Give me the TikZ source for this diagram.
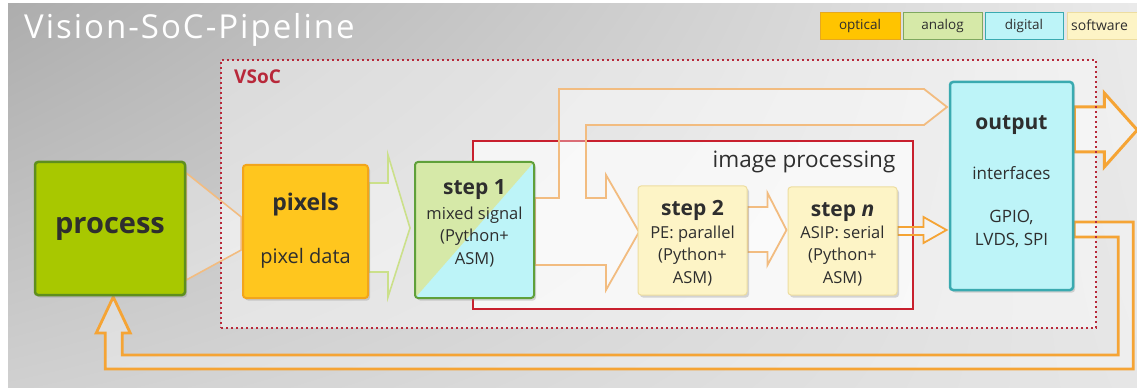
\documentclass[tikz,border=0pt]{standalone}
\usepackage{fontspec}
\setmainfont{Open Sans}
\newfontfamily\titlefont[LetterSpace=6]{Open Sans}
\usetikzlibrary{shadows,calc,shadings}
\pgfdeclarelayer{bg}
\pgfsetlayers{bg,main}
\definecolor{procG}{HTML}{A8C800}
\definecolor{procB}{HTML}{5E8E1E}
\definecolor{pixO}{HTML}{FFC61E}
\definecolor{pixB}{HTML}{F2A51C}
\definecolor{optO}{HTML}{FFC400}
\definecolor{optB}{HTML}{E6A820}
\definecolor{anaG}{HTML}{D6E9A8}
\definecolor{anaB}{HTML}{7FA860}
\definecolor{stepG}{HTML}{5FA03A}
\definecolor{digC}{HTML}{BDF4F8}
\definecolor{digB}{HTML}{3AAAB0}
\definecolor{swY}{HTML}{FDF4C6}
\definecolor{swB}{HTML}{EDDDA0}
\definecolor{arrO}{HTML}{F5A435}
\definecolor{arrL}{HTML}{F2BC80}
\definecolor{arrG}{HTML}{CBE08A}
\definecolor{vsocR}{HTML}{B8283A}
\definecolor{ipR}{HTML}{C8202E}
\definecolor{txt}{HTML}{2E2E2E}
\definecolor{bgUL}{HTML}{ADADAD}
\definecolor{bgUR}{HTML}{EAEAEA}
\definecolor{bgLL}{HTML}{D0D0D0}
\definecolor{bgLR}{HTML}{E6E6E6}
\begin{document}
\begin{tikzpicture}[x=1pt,y=-1pt,
  box/.style={rounded corners=3pt, inner sep=0pt, text=txt,
    drop shadow={shadow xshift=2pt, shadow yshift=-2.5pt, opacity=0.3}},
  legbox/.style={inner sep=0pt, minimum height=27pt, line width=0.8pt,
    text=txt, font=\fontsize{13.5}{16}\selectfont},
  lbl/.style={inner sep=0pt, text=txt},
  ttl/.style={lbl, font=\bfseries\fontsize{21}{25}\selectfont},
  dsc/.style={lbl, align=center, font=\fontsize{16.5}{22.5}\selectfont},
  blockarrow/.style={line width=1.6pt, line join=miter, fill=white, fill opacity=0.35},
]
\useasboundingbox (0,0) rectangle (1137,390);

% boxes
\node[box, fill=procG, draw=procB, line width=2.5pt, minimum width=150pt, minimum height=133pt,
  font=\bfseries\fontsize{29}{34}\selectfont] (process) at (110,228.5) {process};
\node[box, fill=pixO, draw=pixB, line width=2pt, minimum width=125pt, minimum height=133pt] (pixels) at (305.5,231.5) {};
\node[ttl, font=\bfseries\fontsize{23}{27}\selectfont] (pixT) at (305.5,205) {pixels};
\node[lbl, font=\fontsize{20}{24}\selectfont] (pixD) at (305.5,258) {pixel data};

\node[box, fill=digC, draw=stepG, line width=2pt, minimum width=119pt, minimum height=136pt,
  path picture={\fill[anaG] (path picture bounding box.north west) -- (path picture bounding box.north east)
     -- (path picture bounding box.south west) -- cycle;}] (step1) at (474.5,230) {};
\node[ttl] (s1T) at (474.5,190) {step 1};
\node[dsc] (s1D) at (474.5,237) {mixed signal\\(Python+\\ASM)};

\node[box, fill=swY, draw=swB, line width=1pt, minimum width=109pt, minimum height=109pt] (step2) at (692.5,240.5) {};
\node[ttl] (s2T) at (692.5,210) {step 2};
\node[dsc] (s2D) at (692.5,256) {PE: parallel\\(Python+\\ASM)};

\node[box, fill=swY, draw=swB, line width=1pt, minimum width=109pt, minimum height=108pt] (stepn) at (842.5,241) {};
\node[ttl] (snT) at (842.5,212) {step \textit{n}};
\node[dsc] (snD) at (842.5,256) {ASIP: serial\\(Python+\\ASM)};

\node[box, fill=digC, draw=digB, line width=2.5pt, minimum width=123pt, minimum height=208pt] (output) at (1011.5,186) {};
\node[ttl] (outT) at (1011.5,125) {output};
\node[lbl, font=\fontsize{17}{22}\selectfont] (outI) at (1011.5,173) {interfaces};
\node[dsc, font=\fontsize{17}{23}\selectfont] (outG) at (1011.5,229) {GPIO,\\LVDS, SPI};

% legend
\node[legbox, fill=optO, draw=optB, minimum width=80pt] (lopt) at (860,25.5) {optical};
\node[legbox, fill=anaG, draw=anaB, minimum width=79pt] (lana) at (942.5,25.5) {analog};
\node[legbox, fill=digC, draw=digB, minimum width=78pt] (ldig) at (1024,25.5) {digital};
\node[legbox, fill=swY, draw=swB, minimum width=78pt] (lsw) at (1106,25.5) {};
\node[lbl, anchor=west, font=\fontsize{14}{16}\selectfont] (lswT) at (1071,25.5) {software};

% title
\node[anchor=base west, inner sep=0pt, text=white, font=\titlefont\fontsize{33}{38}\selectfont] (title) at (24,39) {Vision-SoC-Pipeline};
\node[anchor=base west, inner sep=0pt, text=vsocR, font=\bfseries\fontsize{19}{22}\selectfont] (vsocT) at (234,84) {VSoC};
\node[lbl, font=\fontsize{22.5}{26}\selectfont] (ipT) at (804,162) {image processing};

\begin{pgfonlayer}{bg}
  \shade[upper left=bgUL, upper right=bgUR, lower left=bgLL, lower right=bgLR] (8,4) rectangle (1137,387);
  \node[fill=white, fill opacity=0.45, minimum width=875pt, minimum height=268pt, inner sep=0pt] (vsocfill) at (658.5,194) {};
  \node[draw=ipR, line width=1.2pt, fill=white, fill opacity=0.65, minimum width=440pt, minimum height=168pt, inner sep=0pt] (ip) at (693,225) {};
  % process -> pixels
  \draw[blockarrow, draw=arrL] ($(process.east)+(0,-55.5)$) -- ++(55,44) -- ++(0,33) -- ++(-55,30) -- cycle;
  % pixels -> step1
  \draw[blockarrow, draw=arrG] ($(pixels.east)+(0,-48.5)$) -- ++(19,0) -- ++(0,-28) -- ++(22,73) -- ++(-22,69) -- ++(0,-25) -- ++(-19,0) -- cycle;
  % step1 -> step2 and -> output
  \draw[blockarrow, draw=arrL, line width=1.8pt] ($(step1.east)+(0,-32)$) -- ++(24,0) -- ++(0,-109) -- ++(365,0) -- ++(23,18) -- ++(-23,18)
     -- ++(-338,0) -- ++(0,73) -- ++(20,0) -- ++(0,-23) -- ++(33,57) -- ++(-33,58) -- ++(0,-25) -- ++(-71,0) -- cycle;
  % step2 -> stepn
  \draw[blockarrow, draw=arrL, line width=1.8pt] ($(step2.east)+(0,-33.5)$) -- ++(20,0) -- ++(0,-14) -- ++(19,37) -- ++(-19,35) -- ++(0,-13) -- ++(-20,0) -- cycle;
  % stepn -> output
  \draw[blockarrow, draw=arrO, line width=1.8pt] ($(stepn.east)+(0,-14)$) -- ++(26,0) -- ++(0,-10) -- ++(23,13) -- ++(-23,13) -- ++(0,-8) -- ++(-26,0) -- cycle;
  % output -> out
  \draw[blockarrow, draw=arrO, line width=3pt] ($(output.east)+(0,-79)$) -- ++(30,0) -- ++(0,-14) -- ++(33,37) -- ++(-33,37) -- ++(0,-15) -- ++(-30,0) -- cycle;
  % feedback
  \draw[blockarrow, draw=arrO, line width=2.8pt] ($(output.east)+(0,36)$) -- ++(59,0) -- ++(0,147) -- ++(-1028,0) -- ++(0,-36) -- ++(-9,0) -- ++(17,-36)
     -- ++(17,36) -- ++(-8,0) -- ++(0,22) -- ++(996,0) -- ++(0,-118) -- ++(-44,0) -- cycle;
  \node[draw=vsocR, line width=2.6pt, dash pattern=on 2.4pt off 2.6pt, minimum width=875pt, minimum height=268pt, inner sep=0pt] (vsoc) at (658.5,194) {};
\end{pgfonlayer}
\end{tikzpicture}
\end{document}
